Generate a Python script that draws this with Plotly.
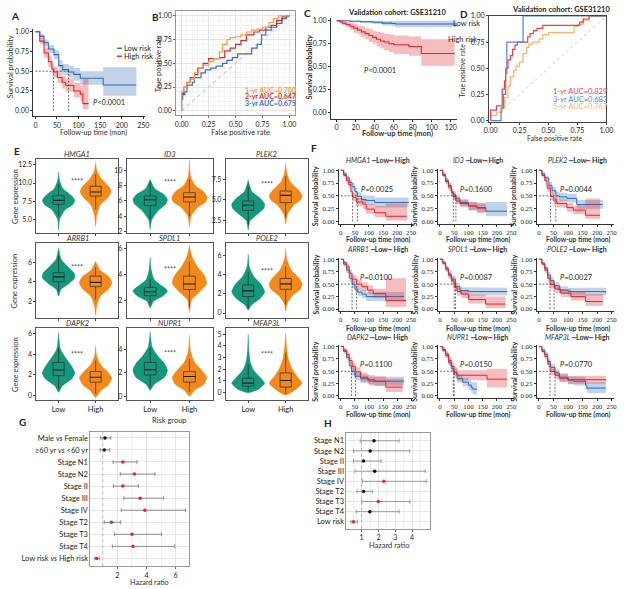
import plotly.graph_objects as go

W, H = 634, 589
FONT = "Lato"
INK = "#231F20"
BLUE, RED = "#2E6DB6", "#E2262B"
BLUE_BAND, RED_BAND = "rgba(46,109,182,0.30)", "rgba(226,38,43,0.30)"
TEAL, ORANGE = "#15977B", "#F2891B"

# ======================= DATA =======================
# ---- A: TCGA risk-score Kaplan-Meier ----
A_low_t = [0, 10, 20, 30, 43, 54, 63, 77, 89, 104, 157, 234]
A_low_s = [1, 0.94, 0.86, 0.78, 0.71, 0.57, 0.52, 0.49, 0.46, 0.41, 0.325, 0.325]
A_low_lo = [1, 0.91, 0.82, 0.73, 0.65, 0.50, 0.45, 0.42, 0.38, 0.33, 0.19, 0.19]
A_low_hi = [1, 0.97, 0.90, 0.83, 0.77, 0.64, 0.59, 0.57, 0.54, 0.50, 0.55, 0.55]
A_high_t = [0, 10, 20, 30, 38, 42, 51, 62, 70, 89, 104, 110, 123]
A_high_s = [1, 0.88, 0.73, 0.62, 0.53, 0.49, 0.42, 0.36, 0.32, 0.25, 0.21, 0.09, 0.09]
A_high_lo = [1, 0.84, 0.67, 0.55, 0.46, 0.42, 0.35, 0.28, 0.24, 0.17, 0.12, 0.02, 0.02]
A_high_hi = [1, 0.92, 0.79, 0.69, 0.60, 0.56, 0.50, 0.44, 0.41, 0.35, 0.32, 0.40, 0.40]
A_groups = ["Low risk", "High risk"]
A_p = "<i>P</i>&lt;0.0001"

# ---- B: TCGA time-dependent ROC ----
B_fpr_1 = [0, 0, 0.02, 0.05, 0.08, 0.12, 0.16, 0.20, 0.25, 0.30, 0.35, 0.38, 0.42, 0.45, 0.50, 0.55, 0.60, 0.65, 0.70, 0.75, 0.81, 0.85, 0.90, 0.95, 1.0]
B_tpr_1 = [0, 0.12, 0.20, 0.25, 0.30, 0.33, 0.40, 0.45, 0.48, 0.52, 0.55, 0.62, 0.70, 0.75, 0.77, 0.78, 0.80, 0.83, 0.85, 0.86, 0.88, 0.93, 0.97, 1.0, 1.0]
B_fpr_2 = [0, 0, 0.02, 0.05, 0.08, 0.12, 0.15, 0.20, 0.25, 0.30, 0.35, 0.40, 0.45, 0.50, 0.55, 0.60, 0.67, 0.72, 0.78, 0.83, 0.88, 0.93, 0.97, 1.0]
B_tpr_2 = [0, 0.10, 0.18, 0.25, 0.30, 0.35, 0.38, 0.45, 0.50, 0.55, 0.55, 0.56, 0.63, 0.66, 0.70, 0.74, 0.80, 0.83, 0.85, 0.88, 0.90, 0.95, 0.99, 1.0]
B_fpr_3 = [0, 0.01, 0.03, 0.05, 0.10, 0.12, 0.18, 0.22, 0.27, 0.32, 0.38, 0.42, 0.47, 0.52, 0.58, 0.65, 0.70, 0.74, 0.78, 0.83, 0.88, 0.93, 0.97, 1.0]
B_tpr_3 = [0, 0.12, 0.17, 0.20, 0.27, 0.30, 0.35, 0.40, 0.43, 0.45, 0.47, 0.50, 0.53, 0.56, 0.60, 0.60, 0.66, 0.70, 0.80, 0.85, 0.88, 0.92, 0.97, 1.0]
B_labels = ["1-yr AUC=0.700", "2-yr AUC=0.647", "3-yr AUC=0.675"]

# ---- C: GSE31210 Kaplan-Meier ----
C_low_t = [0, 14, 25, 38, 48, 58, 62, 126]
C_low_s = [1, 0.995, 0.99, 0.985, 0.975, 0.97, 0.965, 0.965]
C_low_lo = [1, 0.985, 0.975, 0.965, 0.95, 0.94, 0.93, 0.93]
C_low_hi = [1, 1, 1, 1, 1, 1, 1, 1]
C_high_t = [0, 3, 6, 10, 14, 18, 22, 26, 30, 34, 38, 42, 46, 50, 55, 60, 76, 89, 124]
C_high_s = [1, 0.99, 0.975, 0.96, 0.94, 0.92, 0.90, 0.88, 0.86, 0.84, 0.82, 0.80, 0.78, 0.77, 0.75, 0.74, 0.72, 0.645, 0.645]
C_high_lo = [1, 0.97, 0.95, 0.93, 0.90, 0.87, 0.85, 0.82, 0.80, 0.77, 0.75, 0.72, 0.70, 0.68, 0.66, 0.64, 0.62, 0.51, 0.51]
C_high_hi = [1, 1, 1, 0.99, 0.98, 0.97, 0.95, 0.94, 0.92, 0.91, 0.89, 0.88, 0.87, 0.86, 0.85, 0.84, 0.83, 0.80, 0.80]
C_title = "Validation cohort: GSE31210"
C_p = "<i>P</i>&lt;0.0001"

# ---- D: GSE31210 ROC ----
D_fpr_1 = [0, 0, 0.02, 0.05, 0.05, 0.10, 0.10, 0.12, 0.13, 0.14, 0.15, 0.17, 0.19, 0.21, 0.23, 0.25, 0.32, 0.34, 0.37, 0.40, 0.45, 0.50, 0.77, 0.80, 0.85, 0.88, 1.0]
D_tpr_1 = [0, 0.05, 0.10, 0.10, 0.14, 0.14, 0.20, 0.30, 0.38, 0.45, 0.50, 0.58, 0.62, 0.68, 0.72, 0.75, 0.75, 0.80, 0.83, 0.86, 0.88, 0.91, 0.91, 0.94, 0.97, 1.0, 1.0]
D_fpr_3 = [0, 0.09, 0.09, 0.11, 0.11, 0.13, 0.13, 0.14, 0.14, 0.28, 0.28, 1.0]
D_tpr_3 = [0, 0, 0.12, 0.12, 0.25, 0.25, 0.50, 0.50, 0.75, 0.75, 1.0, 1.0]
D_fpr_5 = [0, 0.05, 0.10, 0.12, 0.15, 0.17, 0.20, 0.22, 0.25, 0.28, 0.31, 0.33, 0.36, 0.42, 0.45, 0.50, 0.55, 0.72, 0.75, 0.80, 0.85, 0.90, 1.0]
D_tpr_5 = [0, 0.05, 0.08, 0.12, 0.22, 0.33, 0.42, 0.48, 0.52, 0.56, 0.64, 0.70, 0.73, 0.75, 0.78, 0.82, 0.84, 0.84, 0.90, 0.92, 0.96, 1.0, 1.0]
D_labels = ["1-yr AUC=0.829", "3-yr AUC=0.683", "5-yr AUC=0.767"]

# ---- E: gene expression violins (Low vs High risk) ----
genes = ["HMGA1", "ID3", "PLEK2", "ARRB1", "SPDL1", "POLE2", "DAPK2", "NUPR1", "MFAP3L"]
E_groups = ["Low", "High"]
E_low_y = [
    [3.5, 5.0, 6.3, 7.0, 7.6, 8.3, 9.2, 10.3, 11.5],
    [2.3, 3.5, 4.8, 5.6, 6.2, 6.9, 7.6, 8.8],
    [1.4, 2.5, 3.4, 4.0, 4.5, 5.2, 6.0, 7.4],
    [2.5, 3.2, 3.8, 4.4, 4.9, 5.5, 6.3, 7.5],
    [1.4, 1.9, 2.3, 2.7, 3.1, 3.6, 4.3, 5.3],
    [0.3, 0.8, 1.5, 2.2, 3.0, 3.8, 4.8, 6.1],
    [0.3, 0.9, 1.6, 2.2, 2.9, 3.6, 4.5, 6.1],
    [0.5, 1.0, 1.6, 2.2, 2.8, 3.4, 4.2, 5.5],
    [0.0, 0.3, 0.8, 1.3, 1.9, 2.6, 3.5, 5.0],
]
E_low_w = [
    [0, 0.03, 0.18, 0.38, 0.44, 0.34, 0.12, 0.03, 0],
    [0, 0.04, 0.22, 0.40, 0.44, 0.34, 0.12, 0],
    [0, 0.05, 0.28, 0.42, 0.44, 0.32, 0.10, 0],
    [0, 0.06, 0.28, 0.44, 0.42, 0.26, 0.07, 0],
    [0, 0.08, 0.32, 0.44, 0.30, 0.10, 0.03, 0],
    [0, 0.08, 0.32, 0.44, 0.34, 0.15, 0.03, 0],
    [0, 0.10, 0.36, 0.44, 0.34, 0.20, 0.05, 0],
    [0, 0.10, 0.36, 0.44, 0.36, 0.20, 0.05, 0],
    [0, 0.28, 0.44, 0.32, 0.15, 0.06, 0.02, 0],
]
E_high_y = [
    [4.0, 5.5, 7.0, 8.0, 8.8, 9.5, 10.5, 11.6, 12.8],
    [2.7, 4.0, 5.2, 5.9, 6.5, 7.2, 8.0, 9.2, 11.3],
    [2.1, 3.3, 4.4, 5.0, 5.5, 6.2, 7.2, 8.3, 9.4],
    [0.5, 1.5, 2.5, 3.3, 3.9, 4.5, 5.2, 6.1],
    [1.1, 2.0, 2.7, 3.3, 3.9, 4.6, 5.4, 6.2],
    [0.2, 1.0, 1.8, 2.5, 3.0, 3.6, 4.5, 5.6, 6.7],
    [-0.2, 0.4, 1.0, 1.7, 2.3, 3.0, 3.8, 4.8],
    [0.0, 0.5, 1.0, 1.6, 2.2, 2.9, 3.8, 5.2],
    [-0.2, 0.3, 0.8, 1.4, 2.0, 2.8, 3.8, 5.1],
]
E_high_w = [
    [0, 0.03, 0.13, 0.33, 0.42, 0.36, 0.17, 0.04, 0],
    [0, 0.04, 0.22, 0.42, 0.45, 0.36, 0.15, 0.03, 0],
    [0, 0.05, 0.22, 0.40, 0.44, 0.34, 0.12, 0.03, 0],
    [0, 0.03, 0.13, 0.36, 0.44, 0.36, 0.12, 0],
    [0, 0.05, 0.28, 0.44, 0.38, 0.20, 0.06, 0],
    [0, 0.04, 0.18, 0.40, 0.44, 0.36, 0.15, 0.03, 0],
    [0, 0.13, 0.34, 0.44, 0.32, 0.13, 0.03, 0],
    [0, 0.13, 0.36, 0.44, 0.32, 0.13, 0.03, 0],
    [0, 0.28, 0.44, 0.30, 0.18, 0.08, 0.03, 0],
]
# box stats: lower whisker, q1, median, q3, upper whisker
E_low_box = [
    [5.4, 7.05, 7.6, 8.25, 9.8], [3.6, 5.4, 6.15, 6.65, 8.5], [2.0, 3.76, 4.36, 4.88, 6.67],
    [2.98, 4.0, 4.5, 4.92, 6.7], [1.71, 2.34, 2.65, 2.98, 3.67], [0.51, 1.71, 2.3, 2.91, 4.28],
    [0.64, 1.92, 2.47, 3.2, 4.65], [0.78, 1.82, 2.27, 2.88, 4.14], [0.11, 0.56, 0.82, 1.24, 2.45],
]
E_high_box = [
    [6.4, 8.2, 8.75, 9.55, 11.2], [3.97, 5.87, 6.52, 7.07, 8.8], [2.89, 4.68, 5.55, 6.07, 7.86],
    [2.14, 3.49, 3.93, 4.58, 5.5], [1.45, 2.82, 3.24, 3.85, 4.94], [0.86, 2.46, 3.02, 3.59, 4.79],
    [0.16, 1.28, 1.76, 2.31, 3.37], [0.36, 1.2, 1.68, 2.1, 3.17], [-0.08, 0.48, 1.04, 1.69, 3.44],
]
E_sig = ["****"] * 9
E_tickvals = [[5.0, 7.5, 10.0, 12.5], [2, 4, 6, 8, 10], [2.5, 5.0, 7.5], [2, 4, 6], [2, 4, 6],
              [0, 2, 4, 6], [0, 2, 4, 6], [0, 2, 4], [0, 1, 2, 3, 4, 5]]
E_ticktext = [["5.0", "7.5", "10.0", "12.5"], ["2", "4", "6", "8", "10"], ["2.5", "5.0", "7.5"],
              ["2", "4", "6"], ["2", "4", "6"], ["0", "2", "4", "6"], ["0", "2", "4", "6"],
              ["0", "2", "4"], ["0", "1", "2", "3", "4", "5"]]

# ---- F: per-gene Kaplan-Meier ----
F_low_t = [
    [0, 10, 20, 30, 40, 50, 59, 73, 90, 120, 241],
    [0, 10, 20, 30, 40, 47, 56, 70, 100, 130, 161, 235],
    [0, 10, 20, 34, 45, 58, 70, 96, 130, 220],
    [0, 10, 20, 30, 40, 50, 60, 75, 90, 225],
    [0, 10, 20, 30, 40, 55, 70, 100, 235],
    [0, 10, 20, 30, 40, 52, 70, 100, 230],
    [0, 10, 20, 30, 38, 50, 70, 100, 225],
    [0, 10, 20, 30, 40, 47, 60, 80, 100, 110, 115, 130],
    [0, 10, 20, 30, 40, 55, 70, 100, 120, 160, 165, 230],
]
F_low_s = [
    [1, 0.93, 0.85, 0.76, 0.68, 0.58, 0.49, 0.43, 0.41, 0.37, 0.36],
    [1, 0.92, 0.80, 0.70, 0.58, 0.52, 0.45, 0.37, 0.30, 0.27, 0.20, 0.20],
    [1, 0.93, 0.85, 0.70, 0.60, 0.50, 0.48, 0.45, 0.33, 0.33],
    [1, 0.90, 0.78, 0.62, 0.50, 0.40, 0.34, 0.30, 0.25, 0.25],
    [1, 0.93, 0.82, 0.70, 0.60, 0.45, 0.37, 0.35, 0.34],
    [1, 0.92, 0.82, 0.68, 0.57, 0.47, 0.38, 0.35, 0.32],
    [1, 0.90, 0.78, 0.62, 0.50, 0.40, 0.35, 0.30, 0.30],
    [1, 0.92, 0.82, 0.68, 0.56, 0.48, 0.35, 0.28, 0.22, 0.17, 0.14, 0.14],
    [1, 0.93, 0.84, 0.70, 0.58, 0.47, 0.38, 0.32, 0.30, 0.22, 0.16, 0.16],
]
F_low_lo = [
    [1, 0.90, 0.80, 0.70, 0.60, 0.50, 0.41, 0.35, 0.32, 0.27, 0.26],
    [1, 0.88, 0.75, 0.64, 0.51, 0.45, 0.38, 0.30, 0.22, 0.18, 0.10, 0.10],
    [1, 0.90, 0.80, 0.63, 0.52, 0.42, 0.40, 0.37, 0.25, 0.24],
    [1, 0.86, 0.72, 0.55, 0.42, 0.32, 0.26, 0.22, 0.16, 0.15],
    [1, 0.90, 0.77, 0.64, 0.53, 0.38, 0.30, 0.27, 0.25],
    [1, 0.89, 0.77, 0.62, 0.50, 0.40, 0.30, 0.27, 0.23],
    [1, 0.86, 0.72, 0.55, 0.42, 0.32, 0.27, 0.21, 0.15],
    [1, 0.88, 0.76, 0.61, 0.49, 0.41, 0.27, 0.19, 0.12, 0.07, 0.03, 0.03],
    [1, 0.90, 0.79, 0.64, 0.51, 0.40, 0.30, 0.24, 0.21, 0.12, 0.06, 0.06],
]
F_low_hi = [
    [1, 0.97, 0.90, 0.82, 0.75, 0.66, 0.57, 0.51, 0.50, 0.47, 0.46],
    [1, 0.96, 0.86, 0.76, 0.65, 0.59, 0.52, 0.44, 0.38, 0.36, 0.38, 0.38],
    [1, 0.97, 0.90, 0.77, 0.68, 0.58, 0.56, 0.54, 0.42, 0.43],
    [1, 0.94, 0.84, 0.69, 0.58, 0.48, 0.42, 0.38, 0.34, 0.34],
    [1, 0.96, 0.87, 0.76, 0.67, 0.52, 0.44, 0.43, 0.43],
    [1, 0.95, 0.87, 0.74, 0.64, 0.54, 0.46, 0.43, 0.41],
    [1, 0.94, 0.84, 0.69, 0.58, 0.48, 0.43, 0.39, 0.50],
    [1, 0.96, 0.88, 0.75, 0.63, 0.55, 0.43, 0.37, 0.32, 0.28, 0.28, 0.28],
    [1, 0.96, 0.89, 0.76, 0.65, 0.54, 0.46, 0.40, 0.39, 0.32, 0.28, 0.28],
]
F_high_t = [
    [0, 10, 20, 28, 36, 42, 55, 78, 90, 120, 160, 235],
    [0, 10, 20, 30, 40, 47, 56, 70, 100, 130, 161],
    [0, 10, 20, 28, 40, 51, 62, 96, 118, 160, 210],
    [0, 10, 20, 30, 40, 56, 75, 95, 115, 160, 232],
    [0, 10, 20, 30, 40, 50, 60, 75, 100, 160, 230],
    [0, 10, 20, 30, 38, 55, 75, 110, 160, 220],
    [0, 10, 20, 30, 40, 52, 70, 95, 120, 160, 220],
    [0, 10, 20, 30, 40, 50, 60, 165, 235],
    [0, 10, 20, 30, 38, 55, 70, 100, 230],
]
F_high_s = [
    [1, 0.90, 0.80, 0.72, 0.58, 0.47, 0.38, 0.34, 0.24, 0.17, 0.10, 0.10],
    [1, 0.90, 0.78, 0.67, 0.56, 0.48, 0.40, 0.35, 0.30, 0.26, 0.25],
    [1, 0.90, 0.80, 0.65, 0.49, 0.40, 0.35, 0.27, 0.22, 0.12, 0.12],
    [1, 0.93, 0.85, 0.72, 0.60, 0.50, 0.45, 0.38, 0.31, 0.17, 0.17],
    [1, 0.92, 0.80, 0.68, 0.57, 0.45, 0.35, 0.30, 0.19, 0.10, 0.10],
    [1, 0.90, 0.78, 0.62, 0.49, 0.40, 0.32, 0.25, 0.15, 0.15],
    [1, 0.93, 0.84, 0.72, 0.60, 0.49, 0.38, 0.33, 0.30, 0.18, 0.18],
    [1, 0.94, 0.85, 0.72, 0.60, 0.48, 0.42, 0.34, 0.34],
    [1, 0.90, 0.80, 0.65, 0.50, 0.42, 0.36, 0.33, 0.31],
]
F_high_lo = [
    [1, 0.86, 0.75, 0.65, 0.51, 0.40, 0.30, 0.25, 0.15, 0.08, 0.02, 0.02],
    [1, 0.86, 0.72, 0.60, 0.49, 0.41, 0.33, 0.28, 0.22, 0.17, 0.15],
    [1, 0.86, 0.74, 0.58, 0.41, 0.32, 0.27, 0.19, 0.14, 0.05, 0.05],
    [1, 0.89, 0.80, 0.65, 0.52, 0.41, 0.36, 0.29, 0.22, 0.04, 0.04],
    [1, 0.88, 0.74, 0.61, 0.49, 0.37, 0.27, 0.22, 0.11, 0.02, 0.02],
    [1, 0.86, 0.72, 0.55, 0.41, 0.32, 0.24, 0.17, 0.06, 0.06],
    [1, 0.89, 0.78, 0.65, 0.52, 0.40, 0.29, 0.24, 0.20, 0.08, 0.08],
    [1, 0.90, 0.79, 0.64, 0.51, 0.39, 0.32, 0.17, 0.17],
    [1, 0.86, 0.74, 0.58, 0.42, 0.34, 0.28, 0.25, 0.22],
]
F_high_hi = [
    [1, 0.94, 0.86, 0.79, 0.65, 0.55, 0.46, 0.43, 0.34, 0.30, 0.35, 0.35],
    [1, 0.94, 0.84, 0.74, 0.63, 0.55, 0.47, 0.42, 0.38, 0.35, 0.35],
    [1, 0.94, 0.86, 0.72, 0.57, 0.48, 0.43, 0.36, 0.31, 0.45, 0.45],
    [1, 0.97, 0.90, 0.79, 0.68, 0.59, 0.54, 0.48, 0.41, 0.62, 0.62],
    [1, 0.96, 0.86, 0.75, 0.65, 0.53, 0.43, 0.38, 0.29, 0.25, 0.25],
    [1, 0.94, 0.84, 0.69, 0.57, 0.48, 0.40, 0.34, 0.30, 0.30],
    [1, 0.97, 0.90, 0.79, 0.68, 0.58, 0.47, 0.42, 0.40, 0.35, 0.35],
    [1, 0.98, 0.91, 0.80, 0.69, 0.57, 0.52, 0.55, 0.55],
    [1, 0.94, 0.86, 0.72, 0.58, 0.50, 0.44, 0.41, 0.40],
]
F_pvals = ["0.0025", "0.1600", "0.0044", "0.0100", "0.0087", "0.0027", "0.1100", "0.0150", "0.0770"]

# ---- G: multivariate Cox (TCGA) ----
G_labels = ["Male <i>vs</i> Female", "≥60 yr <i>vs</i> &lt;60 yr", "Stage N1", "Stage N2", "Stage II",
            "Stage III", "Stage IV", "Stage T2", "Stage T3", "Stage T4", "Low risk <i>vs</i> High risk"]
G_hr = [1.15, 1.10, 2.38, 3.17, 2.38, 3.57, 3.89, 1.60, 3.01, 3.08, 0.59]
G_lo = [0.86, 0.82, 1.71, 2.20, 1.73, 2.45, 2.27, 1.10, 1.80, 1.66, 0.45]
G_hi = [1.55, 1.49, 3.35, 4.58, 3.44, 5.19, 6.67, 2.23, 5.03, 5.95, 0.79]

# ---- H: multivariate Cox (GSE31210) ----
H_labels = ["Stage N1", "Stage N2", "Stage II", "Stage III", "Stage IV", "Stage T2", "Stage T3", "Stage T4", "Low risk"]
H_hr = [1.74, 1.51, 1.12, 1.78, 2.32, 1.12, 1.99, 1.49, 0.52]
H_lo = [0.92, 0.52, 0.52, 0.61, 1.05, 0.73, 1.02, 0.68, 0.36]
H_hi = [3.23, 3.85, 2.16, 4.78, 4.84, 1.64, 3.87, 3.23, 0.75]

# ======================= HELPERS =======================
fig = go.Figure()
layout = dict(width=W, height=H, margin=dict(l=0, r=0, t=0, b=0),
              paper_bgcolor="white", plot_bgcolor="white", showlegend=False,
              font=dict(family=FONT, size=7, color=INK))
shapes, annots = [], []
_n = [0]


def span(pa, va, pb, vb, lo, hi):
    k = (pb - pa) / (vb - va)
    a, b = pa + (lo - va) * k, pa + (hi - va) * k
    return (min(a, b), max(a, b))


def add_axes(xd, yd, xcfg, ycfg):
    _n[0] += 1
    s = "" if _n[0] == 1 else str(_n[0])
    xc, yc = dict(xcfg), dict(ycfg)
    xc.update(domain=[xd[0] / W, xd[1] / W], anchor="y" + s)
    yc.update(domain=[1 - yd[1] / H, 1 - yd[0] / H], anchor="x" + s)
    layout["xaxis" + s] = xc
    layout["yaxis" + s] = yc
    return "x" + s, "y" + s


def ann(text, x, y, size=7, color=INK, xanchor="center", yanchor="middle", angle=0, family=FONT):
    annots.append(dict(text=text, x=x / W, y=1 - y / H, xref="paper", yref="paper", showarrow=False,
                       xanchor=xanchor, yanchor=yanchor, textangle=angle,
                       font=dict(size=size, color=color, family=family)))


def step_expand(t, v):
    xs, ys = [t[0]], [v[0]]
    for i in range(1, len(t)):
        xs += [t[i], t[i]]
        ys += [v[i - 1], v[i]]
    return xs, ys


def km(xa, ya, t, s, lo, hi, col, band, width=1.1):
    xu, yu = step_expand(t, hi)
    xl, yl = step_expand(t, lo)
    fig.add_trace(go.Scatter(x=xu + xl[::-1], y=yu + yl[::-1], fill="toself", fillcolor=band,
                             line=dict(width=0), mode="lines", hoverinfo="skip", xaxis=xa, yaxis=ya))
    fig.add_trace(go.Scatter(x=t, y=s, mode="lines", line=dict(color=col, width=width, shape="hv"),
                             xaxis=xa, yaxis=ya))


def median_time(t, s):
    for ti, si in zip(t, s):
        if si <= 0.5:
            return ti
    return None


def median_lines(xa, ya, meds):
    m = [v for v in meds if v is not None]
    ln = dict(color="#333", width=0.7, dash="2px,1.5px")
    shapes.append(dict(type="line", xref=xa, yref=ya, x0=0, x1=max(m), y0=0.5, y1=0.5, line=ln))
    for v in m:
        shapes.append(dict(type="line", xref=xa, yref=ya, x0=v, x1=v, y0=0, y1=0.5, line=ln))


classic = dict(showline=True, linecolor="#333", linewidth=0.8, ticks="outside", ticklen=2,
               tickcolor="#333", tickwidth=0.7, showgrid=False, zeroline=False, tickfont=dict(size=7))
bw = dict(showline=True, mirror=True, linecolor="#999", linewidth=0.8, ticks="outside", ticklen=2,
          tickcolor="#666", showgrid=True, gridcolor="#E6E6E6", gridwidth=0.6, zeroline=False,
          tickfont=dict(size=7), minor=dict(showgrid=True, gridcolor="#F3F3F3", gridwidth=0.5))

# ======================= PANEL A =======================
xa, ya = add_axes(span(31, 0, 141, 250, -5, 255), span(107, 0, 27, 1, -0.07, 1.03),
                  dict(classic, range=[-5, 255], tickvals=[0, 50, 100, 150, 200, 250]),
                  dict(classic, range=[-0.07, 1.03], tickvals=[0, 0.25, 0.5, 0.75, 1], tickformat=".2f"))
km(xa, ya, A_low_t, A_low_s, A_low_lo, A_low_hi, BLUE, BLUE_BAND)
km(xa, ya, A_high_t, A_high_s, A_high_lo, A_high_hi, RED, RED_BAND)
median_lines(xa, ya, [median_time(A_low_t, A_low_s), median_time(A_high_t, A_high_s)])
annots.append(dict(text=A_p, x=170, y=0.1, xref=xa, yref=ya, showarrow=False, font=dict(size=7.5, color=INK)))
ann(f"<span style='color:{BLUE}'>━</span> {A_groups[0]}", 111, 44, size=7.5, xanchor="left")
ann(f"<span style='color:{RED}'>━</span> {A_groups[1]}", 111, 52, size=7.5, xanchor="left")
ann("Follow-up time (mon)", 90, 129, size=7.2, color="#333")
ann("Survival probability", 5, 62, size=7.5, angle=-90, color="#333")
ann("<b>A</b>", 10, 11, size=10)

# ======================= PANEL B =======================
xa, ya = add_axes(span(180, 0, 290, 1, -0.05, 1.05), span(107, 0, 11, 1, -0.05, 1.05),
                  dict(bw, range=[-0.05, 1.05], tickvals=[0, 0.25, 0.5, 0.75, 1], tickformat=".2f"),
                  dict(bw, range=[-0.05, 1.05], tickvals=[0, 0.25, 0.5, 0.75, 1], tickformat=".2f"))
fig.add_trace(go.Scatter(x=[0, 1], y=[0, 1], mode="lines", line=dict(color="#BBBBBB", width=1, dash="4px,3px"),
                         xaxis=xa, yaxis=ya))
B_cols = ["#F39C55", "#C9302C", "#3B6FC2"]
for fx, ty, c in [(B_fpr_3, B_tpr_3, B_cols[2]), (B_fpr_2, B_tpr_2, B_cols[1]), (B_fpr_1, B_tpr_1, B_cols[0])]:
    fig.add_trace(go.Scatter(x=fx, y=ty, mode="lines", line=dict(color=c, width=1.2, shape="vh"),
                             xaxis=xa, yaxis=ya))
for i, lab in enumerate(B_labels):
    ann(f"<b>{lab}</b>", 299, 86 + 6.5 * i, size=7, color=B_cols[i], xanchor="right")
ann("False positive rate", 240, 129, size=7.5, color="#333")
ann("True positive rate", 156, 60, size=7.5, angle=-90, color="#333")
ann("<b>B</b>", 153, 12, size=10)

# ======================= PANEL C =======================
xa, ya = add_axes(span(338, 0, 435, 100, -6, 127), span(109, 0, 16, 1, -0.065, 1.03),
                  dict(classic, range=[-6, 127], tickvals=[0, 20, 40, 60, 80, 100, 120]),
                  dict(classic, range=[-0.065, 1.03], tickvals=[0, 0.25, 0.5, 0.75, 1], tickformat=".2f"))
km(xa, ya, C_low_t, C_low_s, C_low_lo, C_low_hi, BLUE, BLUE_BAND)
km(xa, ya, C_high_t, C_high_s, C_high_lo, C_high_hi, RED, RED_BAND)
annots.append(dict(text=C_p, x=46, y=0.46, xref=xa, yref=ya, showarrow=False, font=dict(size=7.5, color=INK)))
ann("Low risk", 455, 19, size=7.5, xanchor="left")
ann("High risk", 449, 35, size=7.5, xanchor="left")
ann(f"<b>{C_title}</b>", 400, 8, size=7.5)
ann("<b>Follow-up time (mon)</b>", 400, 130, size=7.5, color="#333")
ann("<b>Survival probability</b>", 310, 63, size=7.5, angle=-90, color="#333")
ann("<b>C</b>", 308, 8, size=10)

# ======================= PANEL D =======================
boxed = dict(showline=True, mirror=True, linecolor="#444", linewidth=0.8, ticks="outside", ticklen=2,
             tickcolor="#444", showgrid=False, zeroline=False, tickfont=dict(size=7))
xa, ya = add_axes(span(495, 0, 613, 1, -0.015, 1.0), span(117, 0, 11, 1, -0.015, 1.0),
                  dict(boxed, range=[-0.015, 1.0], tickvals=[0, 0.25, 0.5, 0.75, 1], tickformat=".2f"),
                  dict(boxed, range=[-0.015, 1.0], tickvals=[0, 0.25, 0.5, 0.75, 1], tickformat=".2f"))
fig.add_trace(go.Scatter(x=[0, 1], y=[0, 1], mode="lines", line=dict(color="#BBBBBB", width=0.8, dash="dot"),
                         xaxis=xa, yaxis=ya))
D_cols = ["#E8434A", "#5286CF", "#F7B26B"]
for fx, ty, c in [(D_fpr_5, D_tpr_5, D_cols[2]), (D_fpr_1, D_tpr_1, D_cols[0]), (D_fpr_3, D_tpr_3, D_cols[1])]:
    fig.add_trace(go.Scatter(x=fx, y=ty, mode="lines", line=dict(color=c, width=1.2, shape="vh"),
                             xaxis=xa, yaxis=ya))
for i, lab in enumerate(D_labels):
    ann(lab, 557, 88 + 7.5 * i, size=7.5, color=D_cols[i], xanchor="left")
ann(f"<b>{C_title}</b>", 567, 5, size=7.5)
ann("False positive rate", 560, 135, size=7, color="#333")
ann("True positive rate", 466, 66, size=7, angle=-90, color="#333")
ann("<b>D</b>", 468, 9, size=10)

# ======================= PANEL E =======================
E_rows = [(156, 231), (241, 317), (327, 400)]
E_cols = [(32, 115), (124, 212), (225, 309)]
E_yr = [[3.05, 13.3], [1.78, 11.45], [1.0, 9.9], [0.24, 7.97], [0.6, 6.4], [-0.54, 7.25],
        [-0.48, 6.54], [-0.34, 5.8], [-0.65, 5.53]]
E_star_y = [0.79, 0.77, 0.75, 0.76, 0.73, 0.71, 0.64, 0.66, 0.64]
BOXW = 0.15
for g in range(9):
    r, c = divmod(g, 3)
    xa, ya = add_axes(E_cols[c], E_rows[r],
                      dict(boxed, linecolor="#555", range=[-0.6, 1.6], tickvals=[0, 1], ticktext=E_groups,
                           showticklabels=(r == 2), tickfont=dict(size=7.5)),
                      dict(boxed, linecolor="#555", range=E_yr[g], tickvals=E_tickvals[g], ticktext=E_ticktext[g]))
    for gi, (ys, ws, bx, col) in enumerate([(E_low_y[g], E_low_w[g], E_low_box[g], TEAL),
                                            (E_high_y[g], E_high_w[g], E_high_box[g], ORANGE)]):
        px = [gi - w for w in ws] + [gi + w for w in ws[::-1]]
        py = ys + ys[::-1]
        fig.add_trace(go.Scatter(x=px, y=py, fill="toself", fillcolor=col, mode="lines",
                                 line=dict(color=col, width=0.4, shape="spline", smoothing=0.6),
                                 hoverinfo="skip", xaxis=xa, yaxis=ya))
        # whiskers
        fig.add_trace(go.Scatter(x=[gi, gi, None, gi, gi], y=[bx[0], bx[1], None, bx[3], bx[4]], mode="lines",
                                 line=dict(color="#2A2A2A", width=0.7), hoverinfo="skip", xaxis=xa, yaxis=ya))
        # box
        fig.add_trace(go.Scatter(x=[gi - BOXW, gi + BOXW, gi + BOXW, gi - BOXW, gi - BOXW],
                                 y=[bx[1], bx[1], bx[3], bx[3], bx[1]], mode="lines", fill="toself",
                                 fillcolor=col, line=dict(color="#2A2A2A", width=0.7), hoverinfo="skip",
                                 xaxis=xa, yaxis=ya))
        # median
        fig.add_trace(go.Scatter(x=[gi - BOXW, gi + BOXW], y=[bx[2], bx[2]], mode="lines",
                                 line=dict(color="#1A1A1A", width=1.1), hoverinfo="skip", xaxis=xa, yaxis=ya))
    annots.append(dict(text=E_sig[g], x=0.5, y=E_star_y[g], xref=xa + " domain", yref=ya + " domain",
                       showarrow=False, font=dict(size=7, color="#444")))
    ann(f"<i>{genes[g]}</i>", (E_cols[c][0] + E_cols[c][1]) / 2, E_rows[r][0] - 5, size=7.5, color="#333")
for r in range(3):
    ann("Gene expression", 10, (E_rows[r][0] + E_rows[r][1]) / 2, size=7.5, angle=-90, color="#333")
ann("Risk group", 168, 421, size=7.5, color="#333")
ann("<b>E</b>", 12, 148, size=10)

# ======================= PANEL F =======================
F_rowpx = [(219, 167.3), (307.7, 257.3), (395.7, 345.7)]
F_colpx = [(342.3, 414), (443.3, 516), (544.3, 618.3)]
F_ytitle_x = [316, 417, 518]
serif = dict(size=6.8, family="Liberation Serif")
for g in range(9):
    r, c = divmod(g, 3)
    xd = span(F_colpx[c][0], 0, F_colpx[c][1], 250, -8, 258)
    yd = span(F_rowpx[r][0], 0, F_rowpx[r][1], 1, -0.045, 1.03)
    xa, ya = add_axes(xd, yd,
                      dict(classic, range=[-8, 258], tickvals=[0, 50, 100, 150, 200, 250], tickfont=serif),
                      dict(classic, range=[-0.045, 1.03], tickvals=[0, 0.25, 0.5, 0.75, 1], tickformat=".2f",
                           tickfont=serif))
    km(xa, ya, F_low_t[g], F_low_s[g], F_low_lo[g], F_low_hi[g], BLUE, BLUE_BAND, width=1.0)
    km(xa, ya, F_high_t[g], F_high_s[g], F_high_lo[g], F_high_hi[g], RED, RED_BAND, width=1.0)
    median_lines(xa, ya, [median_time(F_low_t[g], F_low_s[g]), median_time(F_high_t[g], F_high_s[g])])
    annots.append(dict(text=f"<i>P</i>={F_pvals[g]}", x=128, y=0.63, xref=xa, yref=ya, showarrow=False,
                       font=dict(size=7.5, color=INK)))
    cx = (xd[0] + xd[1]) / 2
    ann(f"<i>{genes[g]}</i> <span style='color:{BLUE}'>━</span><b>Low</b><span style='color:{RED}'>━</span> <b>High</b>",
        cx + 2, [157.3, 246.7, 335.7][r], size=7, color="#333")
    ann("<b>Follow-up time (mon)</b>", cx + 3, [237.5, 327.5, 414.5][r], size=6.8, color="#333")
    ann("<b>Survival probability</b>", F_ytitle_x[c], (yd[0] + yd[1]) / 2, size=7, angle=-90, color="#333")
ann("<b>F</b>", 315, 145, size=10)

# ======================= PANEL G =======================
xa, ya = add_axes((87, 188), (432, 568),
                  dict(bw, tickfont=dict(size=7.2), range=[0.15, 6.95], tickvals=[2, 4, 6],
                       minor=dict(showgrid=True, gridcolor="#F0F0F0", tickvals=[1, 3, 5])),
                  dict(bw, range=[10.65, -0.5], tickvals=list(range(len(G_labels))), ticktext=G_labels,
                       ticks="", tickfont=dict(size=7.5, color=INK), minor=dict(showgrid=False)))
shapes.append(dict(type="line", xref=xa, yref=ya + " domain", x0=1, x1=1, y0=0, y1=1,
                   line=dict(color="#AAAAAA", width=0.8, dash="dot")))
G_col = [RED if (lo > 1 or hi < 1) else "#111" for lo, hi in zip(G_lo, G_hi)]
fig.add_trace(go.Scatter(x=G_hr, y=list(range(len(G_hr))), mode="markers",
                         marker=dict(color=G_col, size=3.5),
                         error_x=dict(type="data", symmetric=False,
                                      array=[h - m for h, m in zip(G_hi, G_hr)],
                                      arrayminus=[m - l for m, l in zip(G_hr, G_lo)],
                                      color="#777", thickness=0.8, width=2),
                         xaxis=xa, yaxis=ya))
ann("Hazard ratio", 147, 584, size=7.2, color="#333")
ann("<b>G</b>", 18, 422, size=10)

# ======================= PANEL H =======================
xa, ya = add_axes((348, 433), (433, 530),
                  dict(bw, tickfont=dict(size=7), range=[0.1, 5.05], tickvals=[1, 2, 3, 4],
                       minor=dict(showgrid=True, gridcolor="#F0F0F0", tickvals=[0.5, 1.5, 2.5, 3.5, 4.5])),
                  dict(bw, range=[8.68, -0.78], tickvals=list(range(len(H_labels))), ticktext=H_labels,
                       ticks="", tickfont=dict(size=7.5, color=INK), minor=dict(showgrid=False)))
shapes.append(dict(type="line", xref=xa, yref=ya + " domain", x0=1, x1=1, y0=0, y1=1,
                   line=dict(color="#AAAAAA", width=0.8, dash="dot")))
H_col = [RED if (lo > 1 or hi < 1) else "#111" for lo, hi in zip(H_lo, H_hi)]
fig.add_trace(go.Scatter(x=H_hr, y=list(range(len(H_hr))), mode="markers",
                         marker=dict(color=H_col, size=3.5),
                         error_x=dict(type="data", symmetric=False,
                                      array=[h - m for h, m in zip(H_hi, H_hr)],
                                      arrayminus=[m - l for m, l in zip(H_hr, H_lo)],
                                      color="#888", thickness=0.8, width=2),
                         xaxis=xa, yaxis=ya))
ann("Hazard ratio", 391, 547, size=7.5, color="#333")
ann("<b>H</b>", 329, 423, size=10)

layout["shapes"] = shapes
layout["annotations"] = annots
fig.update_layout(**layout)
fig.write_html("out.html")
